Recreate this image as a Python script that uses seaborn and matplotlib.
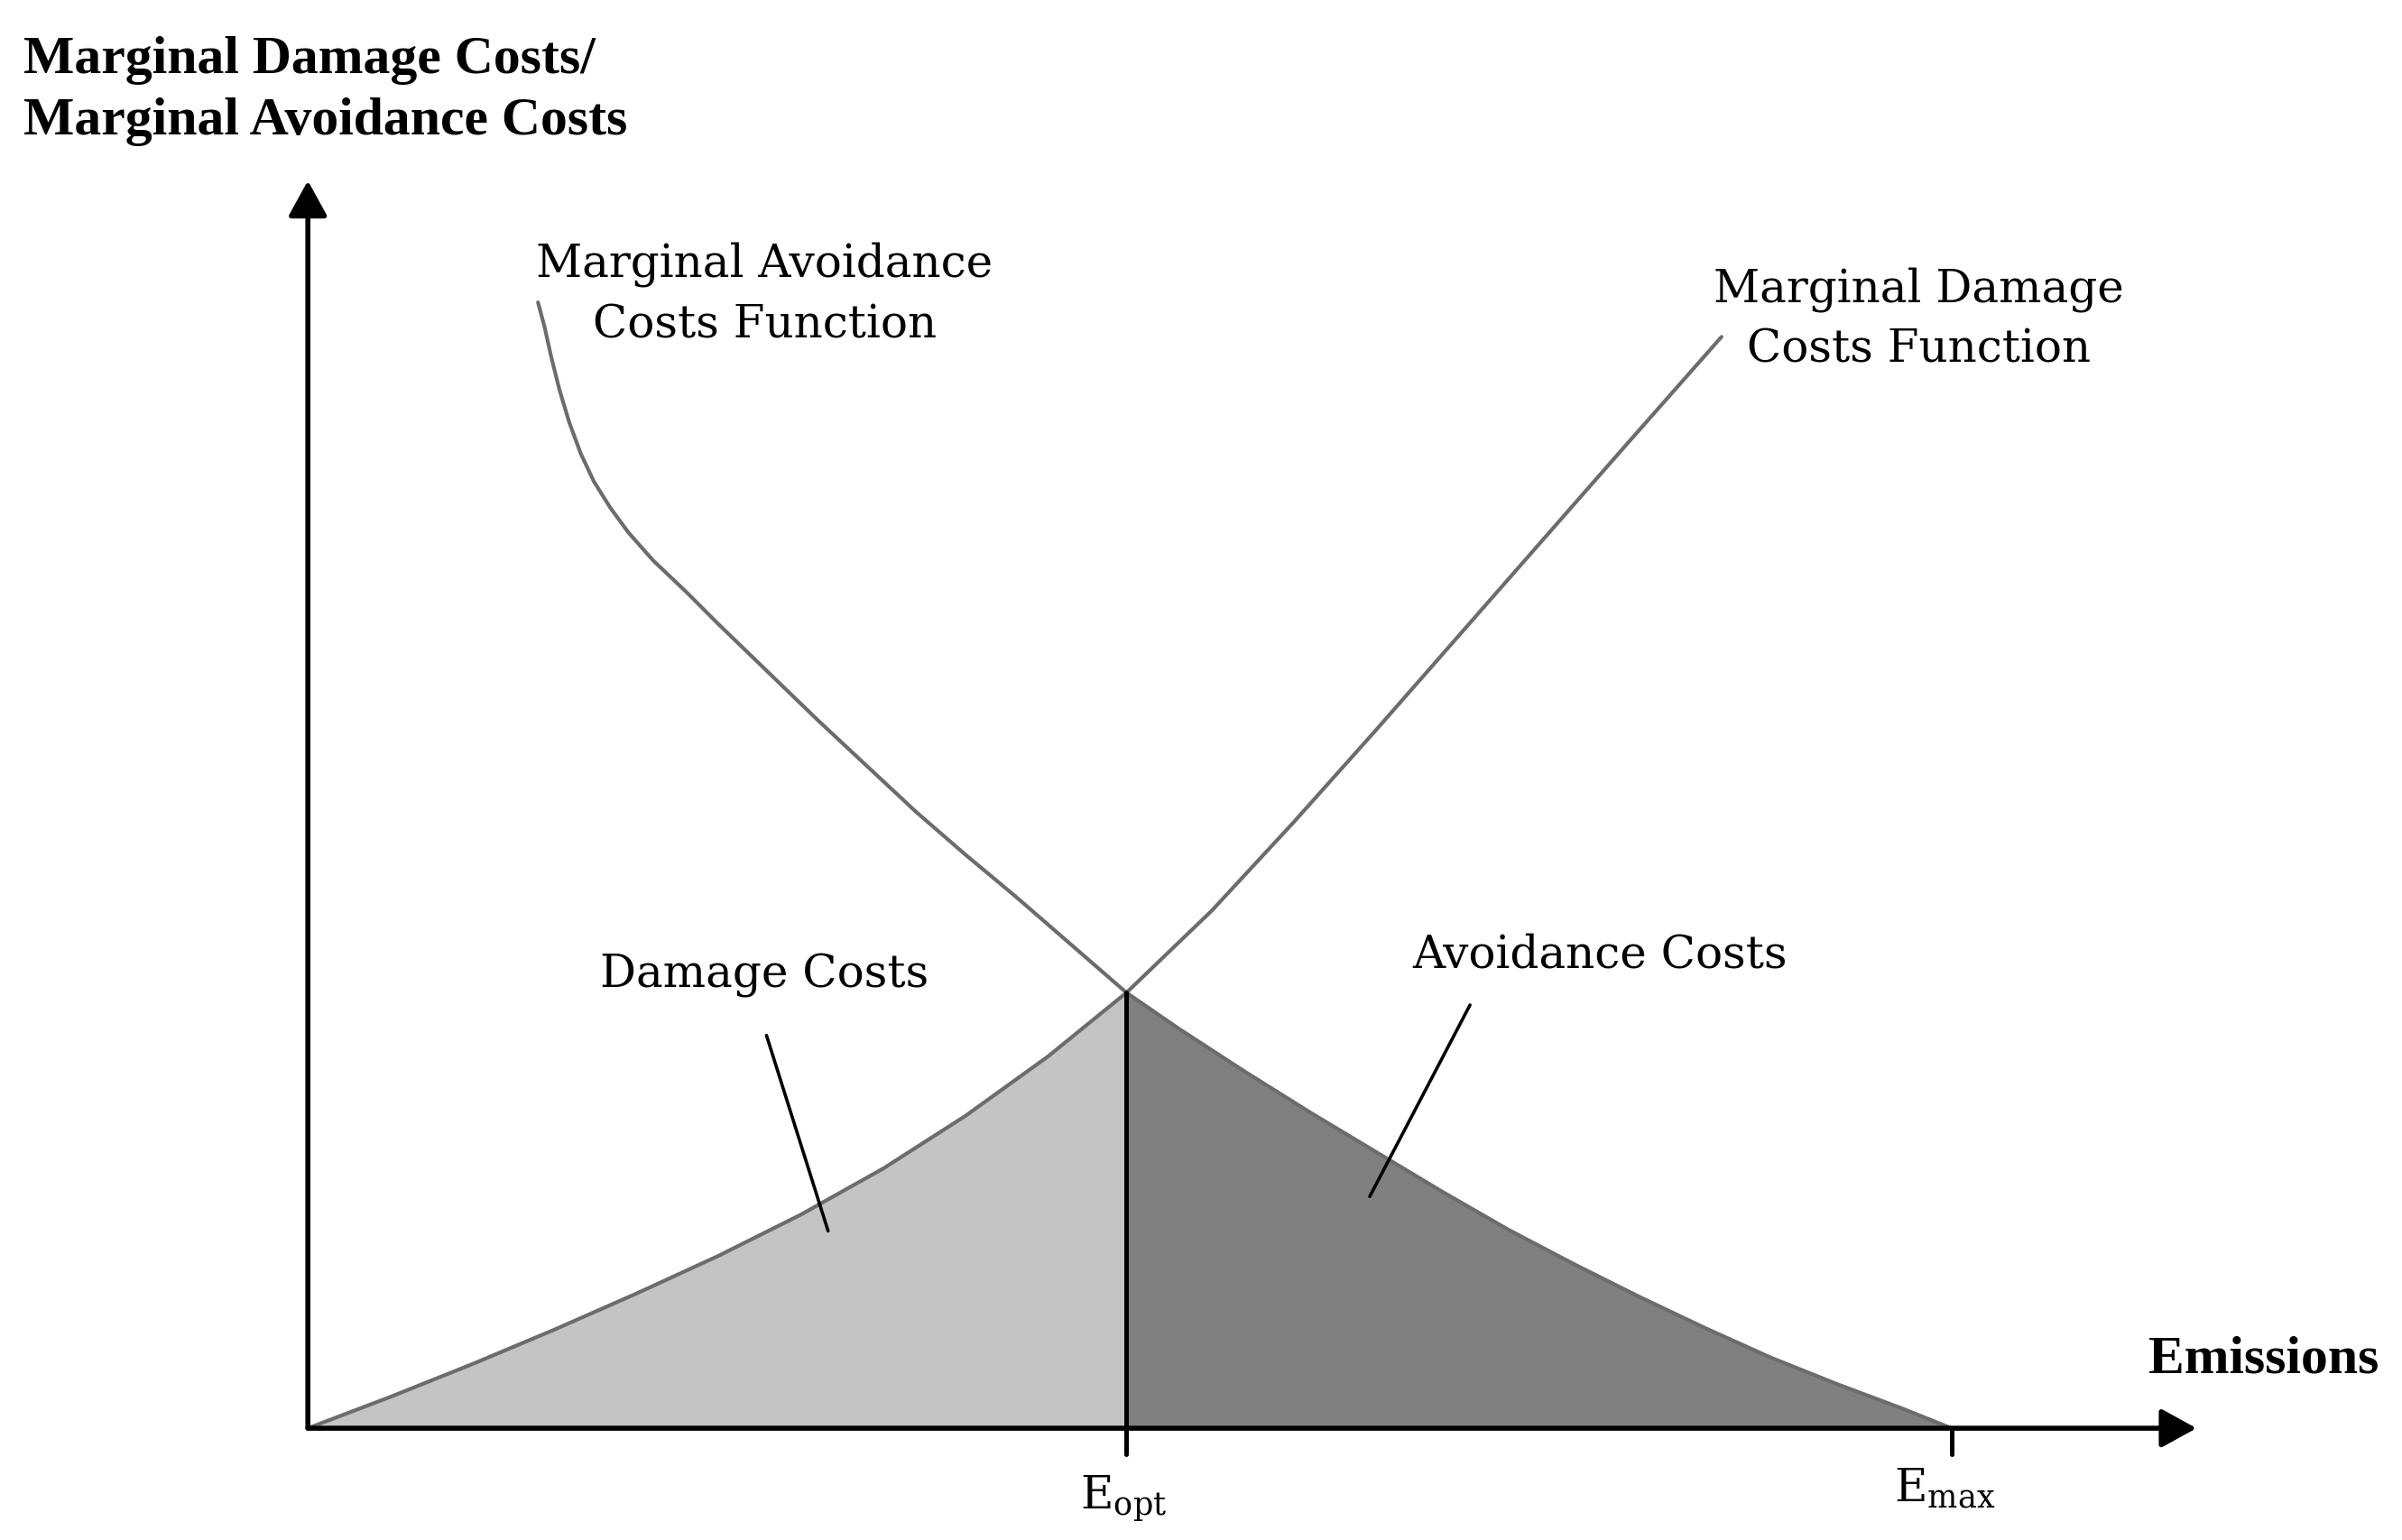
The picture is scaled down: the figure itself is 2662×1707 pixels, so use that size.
import numpy as np
import pandas as pd
import matplotlib
matplotlib.use('Agg')
import matplotlib.pyplot as plt
import seaborn as sns

sns.set_style("white")
plt.rcParams['font.family'] = ['DejaVu Serif']
plt.rcParams['mathtext.fontset'] = 'dejavuserif'
plt.rcParams['text.color'] = 'black'

# values (emissions scaled so that E_max = 100)
damage_x = [0, 5, 10, 15, 20, 25, 30, 35, 40, 45, 49.8,
            55, 60, 65, 70, 75, 80, 86.0]
damage_y = [0, 1.9, 3.9, 6.0, 8.2, 10.5, 13.0, 15.8, 19.0, 22.6, 26.5,
            31.5, 36.9, 42.5, 48.2, 53.9, 59.6, 66.4]
avoid_x = [14.0, 14.4, 14.8, 15.3, 15.9, 16.6, 17.4, 18.4, 19.5, 21, 23, 25,
           28, 31, 34, 37, 40, 43, 46, 49.8,
           53, 57, 61, 65, 69, 73, 77, 81, 85, 89, 93, 97, 100]
avoid_y = [68.5, 67.0, 65.2, 63.2, 61.2, 59.3, 57.6, 56.0, 54.5, 52.8, 50.9, 48.9,
           46.0, 43.1, 40.3, 37.5, 34.9, 32.4, 29.8, 26.5,
           24.3, 21.7, 19.2, 16.8, 14.4, 12.1, 10.0, 8.0, 6.1, 4.3, 2.7, 1.2, 0]
e_opt = 49.8
e_max = 100
c_opt = 26.5

damage = pd.DataFrame({'Emissions': damage_x, 'Cost': damage_y})
avoid = pd.DataFrame({'Emissions': avoid_x, 'Cost': avoid_y})

fig = plt.figure(figsize=(13.31, 8.54), dpi=200)
ax = fig.add_axes([0, 0, 1, 1])

# shaded areas
d = damage[damage['Emissions'] <= e_opt]
ax.fill_between(d['Emissions'], 0, d['Cost'], color='#c4c4c4', lw=0, zorder=1)
a = avoid[avoid['Emissions'] >= e_opt]
ax.fill_between(a['Emissions'], 0, a['Cost'], color='#808080', lw=0, zorder=1)

# marginal cost curves
sns.lineplot(data=damage, x='Emissions', y='Cost', sort=False, estimator=None,
             color='#6c6c6c', lw=1.5, ax=ax, zorder=3)
sns.lineplot(data=avoid, x='Emissions', y='Cost', sort=False, estimator=None,
             color='#6c6c6c', lw=1.5, ax=ax, zorder=3)
ax.set_xlim(-18.73, 127.4)
ax.set_ylim(-6.80, 86.95)
ax.axis('off')

# axes with arrows
arrow = dict(arrowstyle='-|>,head_length=0.6,head_width=0.33', color='black',
             lw=2, mutation_scale=20, shrinkA=0, shrinkB=0)
ax.annotate('', xy=(0, 75.9), xytext=(0, 0), arrowprops=arrow, zorder=4)
ax.annotate('', xy=(114.9, 0), xytext=(0, 0), arrowprops=arrow, zorder=4)

# E_opt line and ticks
ax.plot([e_opt, e_opt], [-1.6, c_opt], color='black', lw=1.8, zorder=4)
ax.plot([e_max, e_max], [-1.6, 0], color='black', lw=1.8, zorder=4)

# pointer lines
ax.plot([27.9, 31.65], [23.9, 12.0], color='black', lw=1.3, zorder=5)
ax.plot([70.7, 64.6], [25.75, 14.1], color='black', lw=1.3, zorder=5)

# labels
bold = dict(fontsize=21.5, fontweight='bold', family='Liberation Serif',
            ha='left', va='baseline')
ax.text(-17.33, 82.5, 'Marginal Damage Costs/', **bold)
ax.text(-17.33, 78.75, 'Marginal Avoidance Costs', **bold)
ax.text(112.0, 3.45, 'Emissions', **bold)

lab = dict(fontsize=18, ha='center', va='baseline')
ax.text(27.8, 70.1, 'Marginal Avoidance', **lab)
ax.text(27.8, 66.4, 'Costs Function', **lab)
ax.text(98.0, 68.6, 'Marginal Damage', **lab)
ax.text(98.0, 64.9, 'Costs Function', **lab)
ax.text(27.8, 26.9, 'Damage Costs', **lab)
ax.text(78.6, 28.1, 'Avoidance Costs', **lab)
ax.text(e_opt - 0.2, -4.85, r'E$_{\rm opt}$', **lab)
ax.text(e_max - 0.4, -4.4, r'E$_{\rm max}$', **lab)

fig.savefig('out.png', dpi=200)
